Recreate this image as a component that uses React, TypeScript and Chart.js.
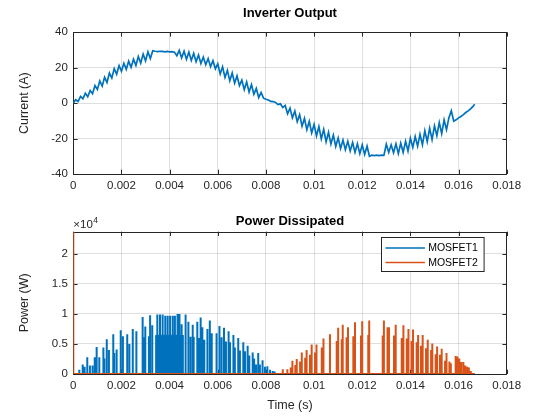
import React, { useEffect, useRef } from 'react';
import Chart from 'chart.js/auto';

const FONT = "'Liberation Sans', Arial, Helvetica, sans-serif";
const AXIS_COLOR = '#262626';
const GRID_COLOR = 'rgba(38,38,38,0.15)';
const BLUE = '#0072BD';
const ORANGE = '#D95319';

// ---- Inverter output current (A) vs time (s) ----
const currentTime = [
  0, 0.0001, 0.0002, 0.0003, 0.0004, 0.0005, 0.0006, 0.0007, 0.0008, 0.0009,
  0.001, 0.0011, 0.0012, 0.0013, 0.0014, 0.0015, 0.0016, 0.0017, 0.0018, 0.0019,
  0.002, 0.0021, 0.0022, 0.0023, 0.0024, 0.0025, 0.0026, 0.0027, 0.0028, 0.0029,
  0.003, 0.0031, 0.0032, 0.0033, 0.0034, 0.0035, 0.0036, 0.0037, 0.0038, 0.0039,
  0.004, 0.0041, 0.0042, 0.0043, 0.0044, 0.0045, 0.0046, 0.0047, 0.0048, 0.0049,
  0.005, 0.0051, 0.0052, 0.0053, 0.0054, 0.0055, 0.0056, 0.0057, 0.0058, 0.0059,
  0.006, 0.0061, 0.0062, 0.0063, 0.0064, 0.0065, 0.0066, 0.0067, 0.0068, 0.0069,
  0.007, 0.0071, 0.0072, 0.0073, 0.0074, 0.0075, 0.0076, 0.0077, 0.0078, 0.0079,
  0.008, 0.0081, 0.0082, 0.0083, 0.0084, 0.0085, 0.0086, 0.0087, 0.0088, 0.0089,
  0.009, 0.0091, 0.0092, 0.0093, 0.0094, 0.0095, 0.0096, 0.0097, 0.0098, 0.0099,
  0.01, 0.0101, 0.0102, 0.0103, 0.0104, 0.0105, 0.0106, 0.0107, 0.0108, 0.0109,
  0.011, 0.0111, 0.0112, 0.0113, 0.0114, 0.0115, 0.0116, 0.0117, 0.0118, 0.0119,
  0.012, 0.0121, 0.0122, 0.0123, 0.0124, 0.0125, 0.0126, 0.0127, 0.0128, 0.0129,
  0.013, 0.0131, 0.0132, 0.0133, 0.0134, 0.0135, 0.0136, 0.0137, 0.0138, 0.0139,
  0.014, 0.0141, 0.0142, 0.0143, 0.0144, 0.0145, 0.0146, 0.0147, 0.0148, 0.0149,
  0.015, 0.0151, 0.0152, 0.0153, 0.0154, 0.0155, 0.0156, 0.0157, 0.0158, 0.0159,
  0.016, 0.0161, 0.0162, 0.0163, 0.0164, 0.0165, 0.0166, 0.01667,
];
const currentAmps = [
  0, 1.9, 0.9, 3.8, 2.5, 5.6, 3.6, 7.1, 5.3, 9.9,
  7.7, 12.5, 9.6, 14.6, 11.7, 17.0, 14.2, 19.5, 16.3, 21.2,
  18.0, 22.5, 19.1, 23.7, 20.2, 24.8, 21.3, 26.3, 22.6, 27.7,
  23.9, 29.0, 25.2, 29.6, 29.3, 29.1, 29.3, 29.2, 29.0, 29.2,
  29.0, 29.1, 28.8, 26.8, 29.8, 25.6, 29.3, 24.8, 28.8, 24.1,
  28.1, 23.4, 27.2, 22.4, 26.0, 21.7, 25.2, 20.6, 24.0, 19.4,
  22.2, 16.5, 20.5, 14.5, 18.5, 12.6, 17.0, 11.3, 15.4, 9.9,
  13.0, 7.6, 12.0, 6.3, 10.5, 5.0, 8.3, 3.2, 6.0, 2.8,
  2.2, 1.8, 1.0, 0.9, 0.4, -0.8, -0.4, -2.5, -1.3, -6.0,
  -2.8, -8.3, -4.5, -10.5, -6.5, -13.0, -8.6, -15.0, -10.2, -16.8,
  -12.0, -18.5, -13.2, -20.2, -14.8, -21.8, -16.5, -23.1, -18.0, -24.4,
  -19.6, -25.6, -20.8, -26.3, -21.5, -27.0, -22.2, -27.8, -23.0, -28.5,
  -23.5, -29.0, -24.3, -30.0, -29.4, -29.6, -29.4, -29.6, -29.3, -29.5,
  -23.2, -27.8, -23.5, -28.0, -23.0, -28.5, -22.6, -27.8, -21.5, -27.0,
  -19.8, -25.0, -18.8, -24.3, -17.6, -23.5, -15.6, -21.8, -14.2, -20.6,
  -12.8, -18.4, -11.0, -17.2, -9.5, -15.0, -8.2, -4.3, -10.2, -9.4,
  -8.3, -7.5, -6.5, -5.3, -4.4, -3.2, -1.8, -0.6,
];

// ---- Power dissipated (W): switching spikes ----
const mosfet1SpikeTime = [
  0.00025, 0.00039, 0.00047, 0.00058, 0.00069, 0.0008, 0.00089, 0.00097, 0.00108, 0.00125,
  0.00129, 0.00139, 0.00148, 0.00166, 0.0017, 0.0018, 0.00197, 0.00206, 0.00224, 0.00233,
  0.00247, 0.00262, 0.00288, 0.00295, 0.00299, 0.00314, 0.00319, 0.00328, 0.00349, 0.0036,
  0.00371, 0.00382, 0.00392, 0.00402, 0.00413, 0.00422, 0.00433, 0.00441, 0.00445, 0.0045,
  0.00455, 0.00464, 0.00468, 0.00478, 0.00487, 0.00496, 0.005, 0.00515, 0.00522, 0.00529,
  0.00536, 0.00544, 0.00557, 0.00567, 0.00575, 0.00595, 0.00607, 0.00616, 0.00626, 0.00634,
  0.00645, 0.00651, 0.00665, 0.00671, 0.00685, 0.00692, 0.00706, 0.00713, 0.00724, 0.00731,
  0.00745, 0.00751, 0.00759, 0.00768, 0.00775, 0.00786, 0.00796, 0.00806, 0.00817, 0.00828,
  0.00836,
];
const mosfet1SpikePower = [
  700, 1600, 1200, 2800, 1400, 1400, 2800, 4500, 2800, 4400,
  2600, 5800, 4000, 6600, 3500, 4100, 7300, 6300, 6600, 5000,
  7500, 7100, 9500, 6100, 7900, 6300, 9800, 8100, 9900, 9900,
  9900, 9700, 9700, 9700, 9700, 9700, 10000, 10000, 6500, 8300,
  6500, 9900, 6500, 8700, 6200, 8200, 6200, 8700, 6000, 9400,
  7800, 5700, 7500, 8900, 6800, 6800, 8000, 6100, 7700, 5400,
  7100, 5300, 6500, 4400, 6000, 3900, 5300, 3800, 4700, 3100,
  3600, 2600, 1600, 3500, 1600, 2300, 1200, 1300, 700, 500,
  400,
];
// solid conduction band of MOSFET1 around the current peak
const mosfet1BandTime = [0.00342, 0.00432];
const mosfet1BandPower = [6450, 6450];

const mosfet2SpikeTime = [
  0, 0.0087, 0.00889, 0.00903, 0.0091, 0.00922, 0.00928, 0.00942, 0.00949, 0.00963,
  0.00969, 0.00983, 0.0099, 0.01004, 0.0101, 0.01032, 0.01039, 0.01066, 0.01094, 0.011,
  0.01115, 0.01119, 0.01135, 0.01141, 0.01163, 0.0117, 0.01195, 0.012, 0.01225, 0.01229,
  0.01285, 0.0129, 0.01305, 0.01311, 0.01332, 0.01339, 0.01364, 0.01371, 0.01385, 0.01392,
  0.01405, 0.01411, 0.01426, 0.01432, 0.01444, 0.01451, 0.01465, 0.01472, 0.01486, 0.01491,
  0.01505, 0.01511, 0.01523, 0.0153, 0.01544, 0.0155, 0.01562, 0.01568, 0.01588, 0.01595,
  0.01603, 0.01611, 0.0162, 0.01628, 0.01636, 0.01643, 0.01651,
];
const mosfet2SpikePower = [
  23700, 800, 800, 1100, 2200, 1500, 2500, 2100, 3600, 2700,
  4000, 3200, 4900, 3600, 4900, 4400, 5900, 6600, 5500, 7700,
  5800, 8200, 6100, 7800, 6300, 8600, 6400, 8800, 6500, 8900,
  6400, 8900, 7800, 7800, 6400, 8200, 6000, 8100, 5900, 7500,
  5500, 7400, 5300, 6500, 4700, 6500, 4300, 5700, 4000, 5100,
  3300, 4600, 3200, 4200, 2200, 3500, 2100, 1800, 3000, 2900,
  2600, 2000, 2000, 1400, 1200, 1100, 500,
];
const powerEndTime = 0.01667;

const seriesNames = ['MOSFET1', 'MOSFET2'];

// ---- axes ----
const xTicks = [0, 0.002, 0.004, 0.006, 0.008, 0.01, 0.012, 0.014, 0.016, 0.018];
const xTickLabels = ['0', '0.002', '0.004', '0.006', '0.008', '0.01', '0.012', '0.014', '0.016', '0.018'];
const currentTicks = [-40, -20, 0, 20, 40];
const currentTickLabels = ['-40', '-20', '0', '20', '40'];
const powerTicks = [0, 5000, 10000, 15000, 20000];
const powerTickLabels = ['0', '0.5', '1', '1.5', '2'];
const powerMax = 23700;
const powerExponent = '4';

const tickFont = { family: FONT, size: 11.5 };
const labelFont = { family: FONT, size: 12.5 };
const titleFont = { family: FONT, size: 13, weight: 'bold' as const };

function labelFor(values: number[], labels: string[], v: number) {
  const i = values.findIndex((t) => Math.abs(t - v) < 1e-9);
  return i >= 0 ? labels[i] : '';
}

function spikeLine(times: number[], heights: number[], end: number) {
  const pts: { x: number; y: number }[] = [{ x: 0, y: 0 }];
  times.forEach((t, i) => {
    pts.push({ x: t, y: 0 }, { x: t, y: heights[i] }, { x: t, y: 0 });
  });
  pts.push({ x: end, y: 0 });
  return pts;
}

// MATLAB-like box with inward ticks on all four sides (data is drawn over it)
const boxPlugin = {
  id: 'matlabBox',
  beforeDatasetsDraw(chart: any) {
    const { ctx, chartArea: a, scales } = chart;
    const len = 4.3;
    ctx.save();
    ctx.strokeStyle = AXIS_COLOR;
    ctx.lineWidth = 1;
    ctx.beginPath();
    scales.x.ticks.forEach((t: any) => {
      const px = Math.round(scales.x.getPixelForValue(t.value)) + 0.5;
      ctx.moveTo(px, a.bottom);
      ctx.lineTo(px, a.bottom - len);
      ctx.moveTo(px, a.top);
      ctx.lineTo(px, a.top + len);
    });
    scales.y.ticks.forEach((t: any) => {
      const py = Math.round(scales.y.getPixelForValue(t.value)) + 0.5;
      ctx.moveTo(a.left, py);
      ctx.lineTo(a.left + len, py);
      ctx.moveTo(a.right, py);
      ctx.lineTo(a.right - len, py);
    });
    ctx.stroke();
    ctx.strokeRect(Math.round(a.left) + 0.5, Math.round(a.top) + 0.5, Math.round(a.right - a.left), Math.round(a.bottom - a.top));
    ctx.restore();
  },
};

// legend box in the upper right + the x10^4 exponent label
const powerDecorPlugin = {
  id: 'powerDecor',
  afterDraw(chart: any) {
    const { ctx, chartArea: a } = chart;
    ctx.save();
    // exponent
    ctx.fillStyle = AXIS_COLOR;
    ctx.textBaseline = 'alphabetic';
    ctx.textAlign = 'left';
    ctx.font = `11.5px ${FONT}`;
    ctx.fillText('\u00d710', a.left, a.top - 4);
    const w = ctx.measureText('\u00d710').width;
    ctx.font = `8.5px ${FONT}`;
    ctx.fillText(powerExponent, a.left + w + 0.5, a.top - 9);

    // legend
    const items = seriesNames
      .map((n) => chart.data.datasets.find((d: any) => d.label === n))
      .filter(Boolean);
    ctx.font = `10.5px ${FONT}`;
    const textW = Math.max(...items.map((d: any) => ctx.measureText(d.label).width));
    const bw = 47 + textW + 6;
    const bh = 34;
    const bx = Math.round(a.right - 22.7 - bw) + 0.5;
    const by = Math.round(a.top + 5) + 0.5;
    ctx.fillStyle = '#fff';
    ctx.fillRect(bx, by, bw, bh);
    ctx.strokeStyle = AXIS_COLOR;
    ctx.lineWidth = 1;
    ctx.strokeRect(bx, by, bw, bh);
    items.forEach((d: any, i: number) => {
      const cy = by + 10.6 + i * 14.4;
      ctx.strokeStyle = d.borderColor;
      ctx.lineWidth = 1.5;
      ctx.beginPath();
      ctx.moveTo(bx + 4, cy);
      ctx.lineTo(bx + 43.4, cy);
      ctx.stroke();
      ctx.fillStyle = '#000';
      ctx.textBaseline = 'middle';
      ctx.fillText(d.label, bx + 46.7, cy + 0.5);
    });
    ctx.restore();
  },
};

function xScale(height: number, title?: string) {
  return {
    type: 'linear',
    min: 0,
    max: 0.018,
    afterBuildTicks: (s: any) => {
      s.ticks = xTicks.map((v) => ({ value: v }));
    },
    ticks: {
      callback: (v: number) => labelFor(xTicks, xTickLabels, v),
      font: tickFont,
      color: AXIS_COLOR,
      padding: 5,
      maxRotation: 0,
      autoSkip: false,
    },
    grid: { color: GRID_COLOR, drawTicks: false },
    border: { display: false },
    title: title
      ? { display: true, text: title, font: labelFont, color: AXIS_COLOR, padding: { top: 0, bottom: 7.2 } }
      : { display: false },
    afterFit: (s: any) => {
      s.height = height;
    },
  };
}

function yScale(min: number, max: number, ticks: number[], labels: string[], title: string) {
  return {
    type: 'linear',
    min,
    max,
    afterBuildTicks: (s: any) => {
      s.ticks = ticks.map((v) => ({ value: v }));
    },
    ticks: {
      callback: (v: number) => labelFor(ticks, labels, v),
      font: tickFont,
      color: AXIS_COLOR,
      padding: 5.5,
      autoSkip: false,
    },
    grid: { color: GRID_COLOR, drawTicks: false },
    border: { display: false },
    title: { display: true, text: title, font: labelFont, color: AXIS_COLOR, padding: { top: 17.5, bottom: 0 } },
    afterFit: (s: any) => {
      s.width = 73.3;
    },
  };
}

export default function App() {
  const topRef = useRef<HTMLCanvasElement | null>(null);
  const bottomRef = useRef<HTMLCanvasElement | null>(null);

  useEffect(() => {
    if (!topRef.current || !bottomRef.current) return;

    const topChart = new Chart(topRef.current, {
      type: 'line',
      data: {
        datasets: [
          {
            label: 'Current',
            data: currentTime.map((t, i) => ({ x: t, y: currentAmps[i] })),
            borderColor: BLUE,
            borderWidth: 1.7,
            pointRadius: 0,
            tension: 0,
            fill: false,
          },
        ],
      },
      options: {
        responsive: false,
        animation: false,
        events: [],
        layout: { padding: { left: 0, right: 53.3, top: 0, bottom: 0 } },
        plugins: {
          legend: { display: false },
          tooltip: { enabled: false },
          title: {
            display: true,
            text: 'Inverter Output',
            fullSize: false,
            font: titleFont,
            color: '#000',
            padding: { top: 5.2, bottom: 11.5 },
          },
        },
        scales: {
          x: xScale(36),
          y: yScale(-40, 40, currentTicks, currentTickLabels, 'Current (A)'),
        },
      } as any,
      plugins: [boxPlugin],
    });

    const bottomChart = new Chart(bottomRef.current, {
      type: 'line',
      data: {
        datasets: [
          {
            label: seriesNames[1],
            data: spikeLine(mosfet2SpikeTime, mosfet2SpikePower, powerEndTime),
            borderColor: ORANGE,
            borderWidth: 2,
            borderJoinStyle: 'bevel',
            pointRadius: 0,
            tension: 0,
            fill: false,
            order: 0,
          },
          {
            label: seriesNames[0],
            data: spikeLine(mosfet1SpikeTime, mosfet1SpikePower, powerEndTime),
            borderColor: BLUE,
            borderWidth: 2,
            borderJoinStyle: 'bevel',
            pointRadius: 0,
            tension: 0,
            fill: false,
            order: 1,
          },
          {
            label: 'MOSFET1 band',
            data: [
              { x: mosfet1BandTime[0], y: 0 },
              { x: mosfet1BandTime[0], y: mosfet1BandPower[0] },
              { x: mosfet1BandTime[1], y: mosfet1BandPower[1] },
              { x: mosfet1BandTime[1], y: 0 },
            ],
            borderColor: BLUE,
            backgroundColor: BLUE,
            borderWidth: 1,
            pointRadius: 0,
            tension: 0,
            fill: 'origin',
            order: 2,
          },
        ],
      },
      options: {
        responsive: false,
        animation: false,
        events: [],
        layout: { padding: { left: 0, right: 53.3, top: 0, bottom: 0 } },
        plugins: {
          legend: { display: false },
          tooltip: { enabled: false },
          title: {
            display: true,
            text: 'Power Dissipated',
            fullSize: false,
            font: titleFont,
            color: '#000',
            padding: { top: 3.2, bottom: 2.9 },
          },
        },
        scales: {
          x: xScale(46, 'Time (s)'),
          y: yScale(0, powerMax, powerTicks, powerTickLabels, 'Power (W)'),
        },
      } as any,
      plugins: [boxPlugin, powerDecorPlugin],
    });

    return () => {
      topChart.destroy();
      bottomChart.destroy();
    };
  }, []);

  return (
    <div style={{ position: 'fixed', left: 0, top: 0, width: 560, height: 420, background: '#fff' }}>
      <canvas
        ref={topRef}
        width={560}
        height={210}
        style={{ position: 'absolute', left: 0, top: 0, width: 560, height: 210, display: 'block' }}
      />
      <canvas
        ref={bottomRef}
        width={560}
        height={210}
        style={{ position: 'absolute', left: 0, top: 210, width: 560, height: 210, display: 'block' }}
      />
    </div>
  );
}
